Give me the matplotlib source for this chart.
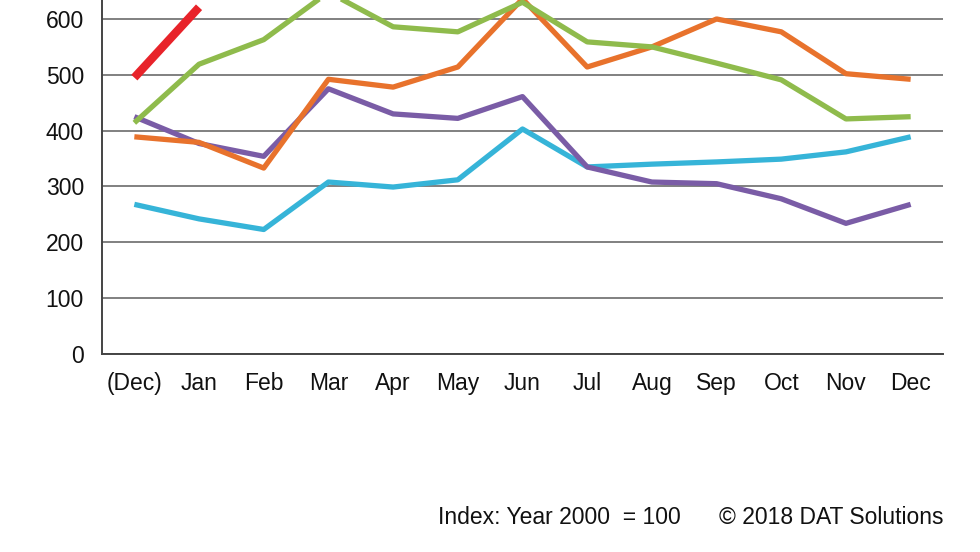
import numpy as np
import matplotlib
matplotlib.use('Agg')
import matplotlib.pyplot as plt

plt.rcParams['font.family'] = ['Liberation Sans', 'DejaVu Sans']

months = ['(Dec)', 'Jan', 'Feb', 'Mar', 'Apr', 'May', 'Jun', 'Jul', 'Aug', 'Sep', 'Oct', 'Nov', 'Dec']

red = [495, 621]
green = [414, 519, 563, 648, 586, 577, 630, 559, 550, 521, 491, 421, 425]
orange = [389, 379, 333, 492, 478, 514, 636, 514, 550, 600, 577, 502, 492]
purple = [425, 377, 354, 475, 430, 422, 461, 335, 308, 305, 278, 234, 268]
cyan = [268, 242, 223, 308, 299, 312, 403, 335, 340, 344, 349, 362, 389]

fig = plt.figure(figsize=(9.8, 5.52), dpi=100)
ax = fig.add_axes([102/980, 198/552, 841/980, 354/552])

x = np.arange(len(months))
ax.plot(x, cyan, color='#36b4d8', linewidth=3.8, solid_capstyle='butt', zorder=3)
ax.plot(x, purple, color='#7a5ca6', linewidth=3.8, solid_capstyle='butt', zorder=3)
ax.plot(x, orange, color='#e8722c', linewidth=3.8, solid_capstyle='butt', zorder=3)
ax.plot(x, green, color='#8fbb4c', linewidth=3.8, solid_capstyle='butt', zorder=3)
ax.plot(x[:len(red)], red, color='#e8232a', linewidth=6, solid_capstyle='butt', zorder=4)

ax.set_xlim(-0.5, 12.5)
ax.set_ylim(0, 634)
ax.set_yticks(range(0, 700, 100))
ax.set_xticks(x)
ax.set_xticklabels(months)
ax.yaxis.grid(True, color='#808080', linewidth=1.4)
ax.set_axisbelow(True)
ax.tick_params(axis='both', length=0, labelsize=16.5, colors='#111111')
ax.tick_params(axis='x', pad=13)
ax.tick_params(axis='y', pad=13)
for s in ['top', 'right']:
    ax.spines[s].set_visible(False)
ax.spines['left'].set_color('#444444')
ax.spines['bottom'].set_color('#444444')
ax.spines['left'].set_linewidth(1.4)
ax.spines['bottom'].set_linewidth(1.4)

fig.text(681/980, 1 - 518/552, 'Index: Year 2000  = 100', ha='right', va='center', fontsize=16.5, color='#111111')
fig.text(943/980, 1 - 518/552, '\u00a9 2018 DAT Solutions', ha='right', va='center', fontsize=16.5, color='#111111')

fig.savefig('out.png', dpi=100)
